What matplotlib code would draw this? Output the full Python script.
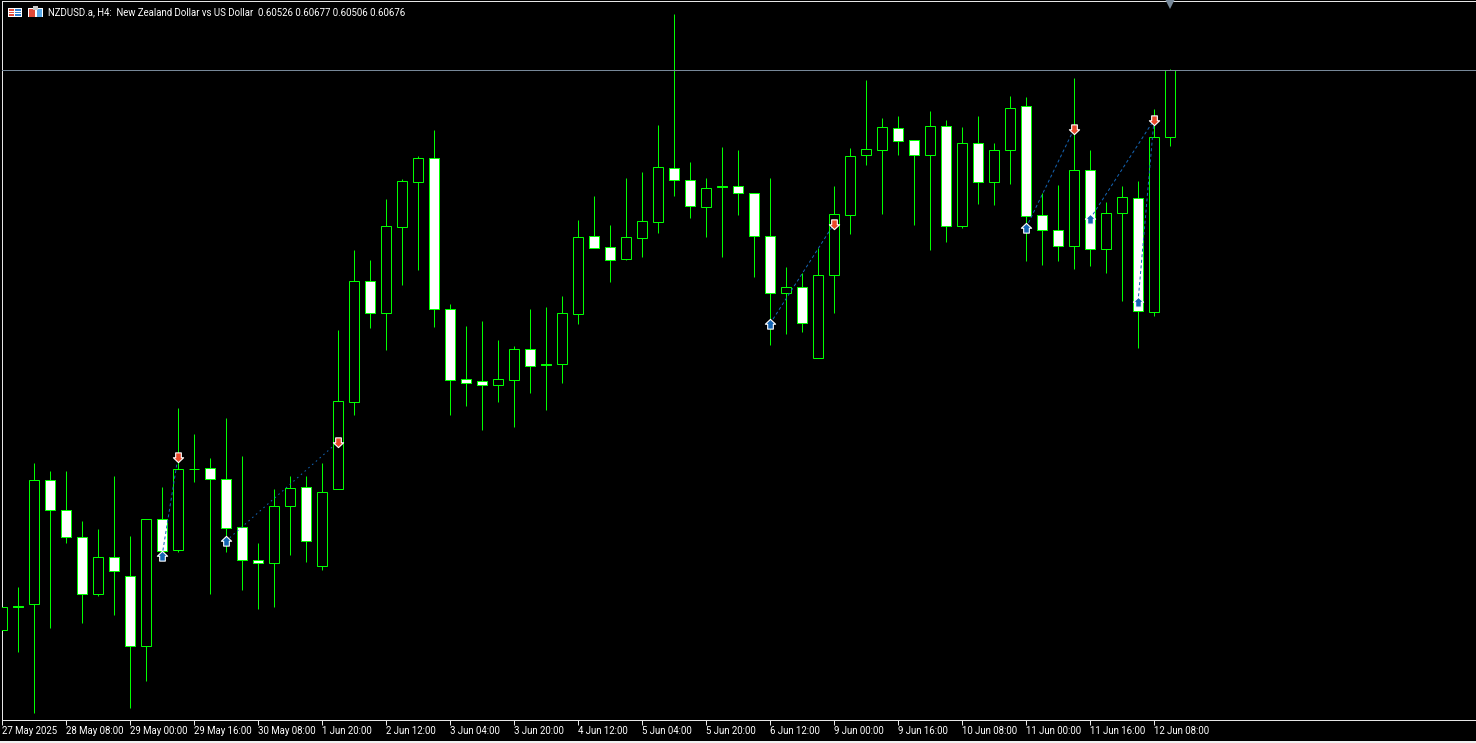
import matplotlib
matplotlib.use("Agg")
import matplotlib.pyplot as plt
from matplotlib.path import Path
from matplotlib.patches import Rectangle

W, H = 1476, 743

opens = [0.59407,0.59462,0.59466,0.59748,0.59679,0.59618,0.59489,0.59573,0.59530,0.59371,
         0.59659,0.59589,0.59773,0.59775,0.59750,0.59641,0.59566,0.59559,0.59689,0.59732,
         0.59552,0.59727,0.59925,0.60199,0.60127,0.60322,0.60424,0.60479,0.60136,0.59977,
         0.59972,0.59963,0.59975,0.60045,0.60010,0.60011,0.60124,0.60301,0.60276,0.60249,
         0.60297,0.60333,0.60456,0.60429,0.60367,0.60414,0.60415,0.60399,0.60301,0.60172,
         0.60186,0.60025,0.60213,0.60349,0.60485,0.60497,0.60547,0.60519,0.60485,0.60551,
         0.60324,0.60513,0.60424,0.60497,0.60597,0.60349,0.60315,0.60279,0.60451,0.60272,
         0.60354,0.60388,0.60129,0.60526]
highs = [0.59459,0.59505,0.59786,0.59768,0.59768,0.59654,0.59636,0.59757,0.59620,0.59659,
         0.59732,0.59911,0.59852,0.59798,0.59888,0.59802,0.59605,0.59727,0.59757,0.59757,
         0.59786,0.60088,0.60270,0.60247,0.60385,0.60431,0.60483,0.60542,0.60147,0.60097,
         0.60108,0.60065,0.60052,0.60136,0.60140,0.60165,0.60338,0.60392,0.60326,0.60433,
         0.60447,0.60553,0.60805,0.60469,0.60433,0.60503,0.60497,0.60399,0.60433,0.60231,
         0.60217,0.60274,0.60415,0.60501,0.60656,0.60569,0.60574,0.60519,0.60585,0.60565,
         0.60549,0.60574,0.60513,0.60619,0.60617,0.60399,0.60417,0.60660,0.60497,0.60379,
         0.60415,0.60426,0.60590,0.60680]
lows = [0.59407,0.59357,0.59219,0.59412,0.59605,0.59423,0.59484,0.59441,0.59230,0.59291,
        0.59573,0.59584,0.59743,0.59489,0.59584,0.59498,0.59455,0.59459,0.59577,0.59561,
        0.59543,0.59727,0.59895,0.60093,0.60043,0.60190,0.60224,0.60095,0.59895,0.59916,
        0.59861,0.59925,0.59868,0.59945,0.59906,0.59968,0.60102,0.60274,0.60197,0.60247,
        0.60254,0.60308,0.60392,0.60342,0.60299,0.60254,0.60349,0.60208,0.60054,0.60079,
        0.60084,0.60025,0.60127,0.60306,0.60463,0.60351,0.60485,0.60326,0.60270,0.60288,
        0.60320,0.60374,0.60372,0.60419,0.60245,0.60236,0.60245,0.60227,0.60233,0.60217,
        0.60154,0.60047,0.60120,0.60506]
closes = [0.59459,0.59459,0.59748,0.59679,0.59618,0.59489,0.59573,0.59541,0.59371,0.59659,
          0.59586,0.59773,0.59773,0.59750,0.59639,0.59566,0.59559,0.59689,0.59729,0.59609,
          0.59720,0.59927,0.60199,0.60127,0.60324,0.60426,0.60479,0.60136,0.59975,0.59968,
          0.59963,0.59977,0.60045,0.60006,0.60008,0.60127,0.60299,0.60274,0.60247,0.60299,
          0.60335,0.60458,0.60429,0.60370,0.60410,0.60412,0.60399,0.60301,0.60172,0.60186,
          0.60104,0.60213,0.60351,0.60483,0.60499,0.60549,0.60517,0.60485,0.60551,0.60324,
          0.60513,0.60424,0.60497,0.60592,0.60347,0.60315,0.60279,0.60451,0.60272,0.60354,
          0.60390,0.60131,0.60526,0.60678]

tick_labels = ["27 May 2025","28 May 08:00","29 May 00:00","29 May 16:00","30 May 08:00",
               "1 Jun 20:00","2 Jun 12:00","3 Jun 04:00","3 Jun 20:00","4 Jun 12:00",
               "5 Jun 04:00","5 Jun 20:00","6 Jun 12:00","9 Jun 00:00","9 Jun 16:00",
               "10 Jun 08:00","11 Jun 00:00","11 Jun 16:00","12 Jun 08:00"]
tick_bars = list(range(0, 76, 4))

buy_bars = [10, 14, 48, 64, 68, 71]
buy_prices = [0.59575, 0.59609, 0.60102, 0.60320, 0.60340, 0.60152]
sell_bars = [11, 21, 52, 67, 72]
sell_prices = [0.59800, 0.59834, 0.60329, 0.60544, 0.60565]
trade_entry = [0, 1, 2, 3, 4, 5]
trade_exit = [0, 1, 2, 3, 4, 4]

title = "NZDUSD.a, H4:  New Zealand Dollar vs US Dollar  0.60526 0.60677 0.60506 0.60676"
last_price = 0.60678

GREEN = "#00ff00"
GRAY = "#778899"
FRAME = "#e6e6e6"
BLUE = "#1464b4"
RED = "#e8482a"
PX = 0.72
FONT = "Roboto"
FS = 6.95

fig = plt.figure(figsize=(W / 100, H / 100), dpi=100, facecolor="black")
ax = fig.add_axes([2.0 / W, (H - 720.0) / H, (W - 2.0) / W, 719 / H], facecolor="black")
ax.set_xlim(0, (W - 2.0) / 16)
ax.set_ylim(0.5920277, 0.6083490)

xs = list(range(len(opens)))
wicks = ax.vlines(xs, lows, highs, colors=GREEN, linewidth=PX, zorder=2)
wicks.set_snap(True)
for i in xs:
    up = closes[i] >= opens[i]
    lo, hi = min(opens[i], closes[i]), max(opens[i], closes[i])
    if lo == hi:
        line = ax.hlines(lo, i - 5 / 16, i + 5 / 16, colors=GREEN, linewidth=PX, zorder=3)
        line.set_snap(True)
    else:
        bars = ax.bar(i, hi - lo, bottom=lo, width=10 / 16, facecolor="black" if up else "white",
                      edgecolor=GREEN, linewidth=PX, zorder=3)
        bars[0].set_snap(True)

for k, (a, b) in enumerate(zip(trade_entry, trade_exit)):
    steep = abs(sell_prices[b] - buy_prices[a]) / abs(sell_bars[b] - buy_bars[a]) > 0.0005
    dashes = (0, (3.0, 2.6)) if steep else (0, (1.6, 3.4))
    ax.plot([buy_bars[a], sell_bars[b]], [buy_prices[a], sell_prices[b]],
            color=BLUE, linewidth=PX, linestyle=dashes, zorder=4)

up_arrow = Path([(0, 1), (1, 0.05), (0.55, 0.05), (0.55, -0.9), (-0.55, -0.9), (-0.55, 0.05), (-1, 0.05), (0, 1)], closed=True)
down_arrow = Path([(0, -1), (1, -0.05), (0.55, -0.05), (0.55, 0.9), (-0.55, 0.9), (-0.55, -0.05), (-1, -0.05), (0, -1)], closed=True)
ax.plot(buy_bars, buy_prices, linestyle="none", marker=up_arrow, markersize=7.4,
        markerfacecolor=BLUE, markeredgecolor="white", markeredgewidth=0.8, zorder=5)
ax.plot(sell_bars, sell_prices, linestyle="none", marker=down_arrow, markersize=7.4,
        markerfacecolor=RED, markeredgecolor="white", markeredgewidth=0.8, zorder=5)

price_line = ax.axhline(last_price, color=GRAY, linewidth=PX, zorder=6)
price_line.set_snap(True)
ax.plot([len(opens) - 1], [0.9965], transform=ax.get_xaxis_transform(), marker="v", markersize=7,
        color=GRAY, markeredgewidth=0, clip_on=False, zorder=6)

for side in ("left", "top", "bottom"):
    ax.spines[side].set_color(FRAME)
    ax.spines[side].set_linewidth(PX)
ax.spines["right"].set_visible(False)
ax.yaxis.set_visible(False)
ax.set_xticks(tick_bars[:len(tick_labels)])
ax.set_xticklabels(tick_labels, ha="left", fontsize=FS, color="white", family=FONT)
ax.tick_params(axis="x", color=FRAME, length=3.6, width=PX, pad=0.9)

fig.text(48 / W, 1 - 12.5 / H, title, color="white", fontsize=FS, family=FONT, va="center", ha="left")


def px_rect(x, y, w, h, color):
    fig.add_artist(Rectangle((x / W, 1 - (y + h) / H), w / W, h / H, transform=fig.transFigure,
                             facecolor=color, edgecolor="none", antialiased=False))


# bottom window strip
px_rect(0, 741, W, 2, "#f0f0f0")
# toolbar icons in the chart's corner
px_rect(8, 8, 14, 9, "white")
px_rect(9, 9, 5, 7, "#e04a3a")
px_rect(15, 9, 6, 7, "#2f7fd0")
for yy in (11, 13):
    px_rect(9, yy, 12, 1, "white")
px_rect(28, 8, 15, 9, "white")
px_rect(29, 9, 6, 8, "#e04a3a")
px_rect(37, 9, 5, 8, "#58a8e8")
px_rect(33, 6, 5, 4, "#c8c8c8")

fig.savefig("out.png", dpi=100, facecolor="black")
